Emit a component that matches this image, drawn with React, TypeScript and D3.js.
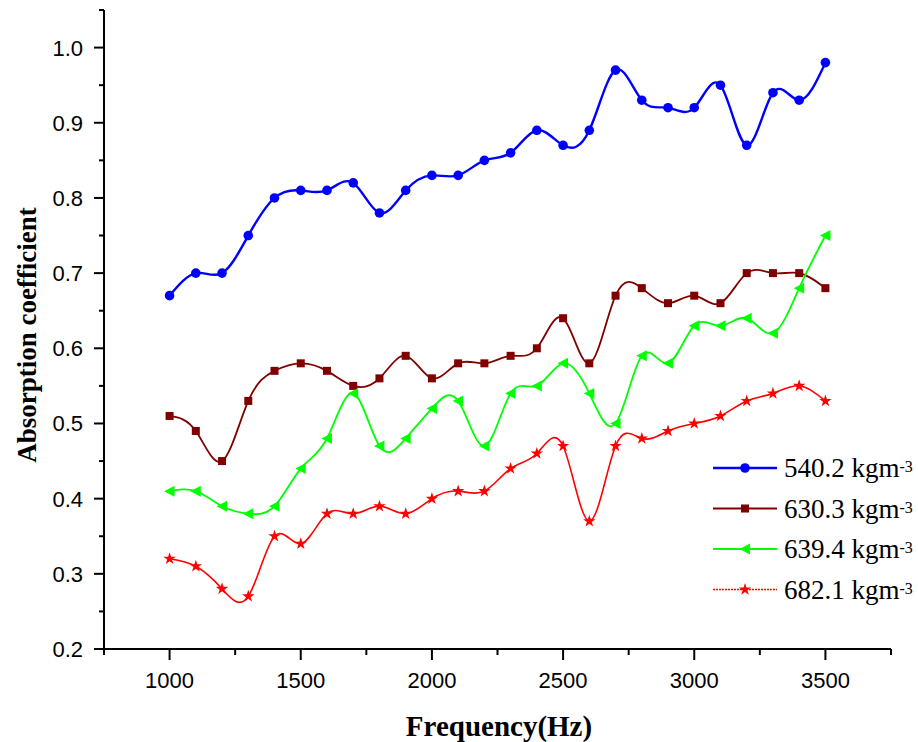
import React, { useEffect, useRef } from 'react';
import * as d3 from 'd3';

const freqs = [1000, 1100, 1200, 1300, 1400, 1500, 1600, 1700, 1800, 1900, 2000, 2100, 2200, 2300, 2400, 2500, 2600, 2700, 2800, 2900, 3000, 3100, 3200, 3300, 3400, 3500];

const d540 = [0.67, 0.70, 0.70, 0.75, 0.80, 0.81, 0.81, 0.82, 0.78, 0.81, 0.83, 0.83, 0.85, 0.86, 0.89, 0.87, 0.89, 0.97, 0.93, 0.92, 0.92, 0.95, 0.87, 0.94, 0.93, 0.98];
const d630 = [0.51, 0.49, 0.45, 0.53, 0.57, 0.58, 0.57, 0.55, 0.56, 0.59, 0.56, 0.58, 0.58, 0.59, 0.60, 0.64, 0.58, 0.67, 0.68, 0.66, 0.67, 0.66, 0.70, 0.70, 0.70, 0.68];
const d639 = [0.41, 0.41, 0.39, 0.38, 0.39, 0.44, 0.48, 0.54, 0.47, 0.48, 0.52, 0.53, 0.47, 0.54, 0.55, 0.58, 0.54, 0.50, 0.59, 0.58, 0.63, 0.63, 0.64, 0.62, 0.68, 0.75];
const d682 = [0.32, 0.31, 0.28, 0.27, 0.35, 0.34, 0.38, 0.38, 0.39, 0.38, 0.40, 0.41, 0.41, 0.44, 0.46, 0.47, 0.37, 0.47, 0.48, 0.49, 0.50, 0.51, 0.53, 0.54, 0.55, 0.53];

const seriesNames = ['540.2', '630.3', '639.4', '682.1'];
const xTicks = [1000, 1500, 2000, 2500, 3000, 3500];
const yTicks = [0.2, 0.3, 0.4, 0.5, 0.6, 0.7, 0.8, 0.9, 1.0];

const App = () => {
  const chartRef = useRef<SVGSVGElement>(null);

  useEffect(() => {
    const width = 918;
    const height = 742;
    const svg = d3.select(chartRef.current);
    svg.selectAll('*').remove();

    const x = d3.scaleLinear().domain([750, 3750]).range([104, 891]);
    const y = d3.scaleLinear().domain([0.2, 1.05]).range([649, 10]);

    const styles = [
      { color: '#0000ff', width: 2.4, marker: 'circle', dash: null },
      { color: '#800000', width: 1.8, marker: 'square', dash: null },
      { color: '#00ff00', width: 1.8, marker: 'triangle', dash: null },
      { color: '#ff0000', width: 1.6, marker: 'star', dash: '2,1' },
    ];
    const allData = [d540, d630, d639, d682];

    const line = d3.line<number>()
      .x((d, i) => x(freqs[i]))
      .y(d => y(d))
      .curve(d3.curveNatural);

    const drawMarker = (g, kind, color) => {
      if (kind === 'circle') {
        g.append('circle').attr('r', 4.8).attr('fill', color);
      } else if (kind === 'square') {
        g.append('rect').attr('x', -4).attr('y', -4).attr('width', 8).attr('height', 8).attr('fill', color);
      } else if (kind === 'triangle') {
        g.append('path').attr('d', 'M -5.5 0 L 5 -5.5 L 5 5.5 Z').attr('fill', color);
      } else {
        g.append('path').attr('d', d3.symbol().type(d3.symbolStar).size(48)()).attr('fill', color);
      }
    };

    // series
    allData.forEach((data, si) => {
      const st = styles[si];
      svg.append('path')
        .attr('d', line(data))
        .attr('fill', 'none')
        .attr('stroke', st.color)
        .attr('stroke-width', st.width);
      data.forEach((v, i) => {
        const g = svg.append('g').attr('transform', `translate(${x(freqs[i])},${y(v)})`);
        drawMarker(g, st.marker, st.color);
      });
    });

    // axes
    const xAxis = svg.append('g').attr('transform', 'translate(0,649)');
    xAxis.append('line').attr('x1', 104).attr('x2', 891).attr('stroke', '#000').attr('stroke-width', 2);
    d3.range(750, 3751, 250).forEach(t => {
      const major = xTicks.includes(t);
      xAxis.append('line')
        .attr('x1', x(t)).attr('x2', x(t))
        .attr('y1', 0).attr('y2', major ? 11 : 6)
        .attr('stroke', '#000').attr('stroke-width', 2);
    });
    xTicks.forEach(t => {
      xAxis.append('text')
        .attr('x', x(t)).attr('y', 39)
        .attr('text-anchor', 'middle')
        .attr('font-family', 'Liberation Sans, Arial, sans-serif')
        .attr('font-size', 22)
        .text(t);
    });

    const yAxis = svg.append('g').attr('transform', 'translate(104,0)');
    yAxis.append('line').attr('y1', 10).attr('y2', 650).attr('stroke', '#000').attr('stroke-width', 2);
    d3.range(0.2, 1.0501, 0.05).forEach(t => {
      const major = yTicks.some(v => Math.abs(v - t) < 1e-6);
      yAxis.append('line')
        .attr('x1', major ? -10 : -5).attr('x2', 0)
        .attr('y1', y(t)).attr('y2', y(t))
        .attr('stroke', '#000').attr('stroke-width', 2);
    });
    yTicks.forEach(t => {
      yAxis.append('text')
        .attr('x', -21).attr('y', y(t) + 8)
        .attr('text-anchor', 'end')
        .attr('font-family', 'Liberation Sans, Arial, sans-serif')
        .attr('font-size', 22)
        .text(t.toFixed(1));
    });

    // axis titles
    svg.append('text')
      .attr('x', 499).attr('y', 736)
      .attr('text-anchor', 'middle')
      .attr('font-family', 'Liberation Serif, Times New Roman, serif')
      .attr('font-weight', 'bold')
      .attr('font-size', 29)
      .text('Frequency(Hz)');
    svg.append('text')
      .attr('transform', 'translate(36,335) rotate(-90)')
      .attr('text-anchor', 'middle')
      .attr('font-family', 'Liberation Serif, Times New Roman, serif')
      .attr('font-weight', 'bold')
      .attr('font-size', 27)
      .text('Absorption coefficient');

    // legend
    seriesNames.forEach((name, i) => {
      const st = styles[i];
      const ly = 468 + i * 40.5;
      const lg = svg.append('g').attr('transform', `translate(0,${ly})`);
      lg.append('line')
        .attr('x1', 713).attr('x2', 777)
        .attr('stroke', st.color).attr('stroke-width', st.width)
        .attr('stroke-dasharray', st.dash);
      drawMarker(lg.append('g').attr('transform', 'translate(745,0)'), st.marker, st.color);
      const txt = lg.append('text')
        .attr('x', 784).attr('y', 9)
        .attr('font-family', 'Liberation Serif, Times New Roman, serif')
        .attr('font-size', 27);
      txt.append('tspan').text(`${name} kgm`);
      txt.append('tspan').attr('dy', -5).attr('font-size', 16).text('-3');
    });

    svg.attr('width', width).attr('height', height);
  }, []);

  return <svg ref={chartRef} width={918} height={742} style={{ position: 'absolute', left: 0, top: 0, background: '#fff' }} />;
};

export default App;
